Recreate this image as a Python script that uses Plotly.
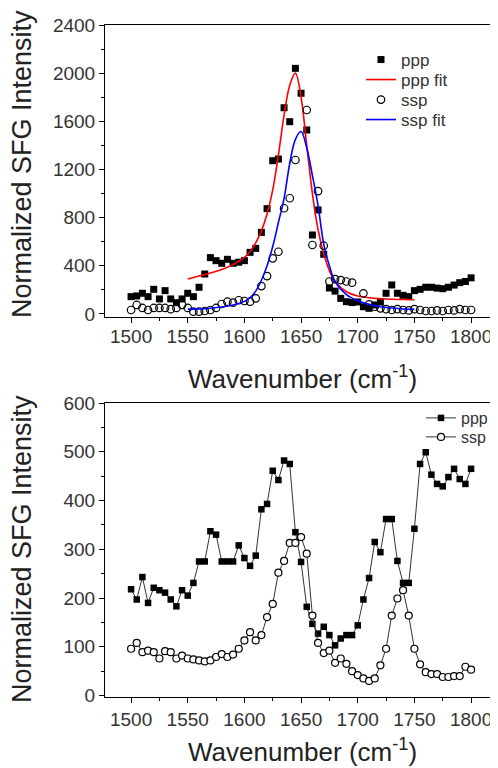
import plotly.graph_objects as go

# ---------------- data ----------------
# top panel
wn_ppp_top = [1500,1505,1510,1515,1520,1525,1530,1535,1540,1545,1550,1555,1560,1565,1570,1575,1580,1585,1590,1595,
              1600,1605,1610,1615,1620,1625,1630,1635,1640,1645,1650,1655,1660,1665,1670,1675,1680,1685,1690,1695,
              1700,1705,1710,1715,1720,1725,1730,1735,1740,1745,1750,1755,1760,1765,1770,1775,1780,1785,1790,1795,1800]
ppp_top = [144,150,172,144,205,125,194,125,94,125,172,144,222,332,468,443,421,454,421,430,
           443,512,545,678,875,1273,1287,1713,1597,2040,1833,1528,656,864,496,216,190,130,102,95,
           100,60,47,75,102,172,241,172,155,144,194,205,222,222,215,210,222,240,260,270,300]

wn_ssp_top = [1500,1505,1510,1515,1520,1525,1530,1535,1540,1545,1550,1555,1560,1565,1570,1575,1580,1585,1590,1595,
              1600,1605,1610,1615,1620,1625,1630,1635,1640,1645,1655,1660,1665,1670,1675,1680,1685,1690,1695,
              1705,1710,1715,1720,1725,1730,1735,1740,1745,1750,1755,1760,1765,1770,1775,1780,1785,1790,1795,1800]
ssp_top = [33,75,50,33,50,50,50,40,50,75,50,19,19,25,33,50,83,102,94,114,
           108,102,130,232,315,462,517,878,961,1279,1694,573,1021,567,270,290,282,270,260,
           172,80,60,47,40,33,40,33,30,40,33,25,25,30,25,33,30,40,33,33]

wn_fit = [1550,1560,1570,1580,1590,1600,1605,1610,1615,1620,1625,1630,1635,1640,1645,1650,1655,1660,
          1665,1670,1675,1680,1690,1700,1710,1720,1730,1740,1750]
ppp_fit = [290,315,340,370,410,470,520,590,690,830,1030,1320,1650,1900,2000,1800,1400,1000,
           700,500,360,270,185,150,135,127,122,120,118]
ssp_fit = [40,42,48,58,75,105,135,190,280,400,560,760,960,1250,1450,1515,1380,1150,
           900,580,400,270,160,110,80,60,50,42,38]

# bottom panel
wn_bot = [1500,1505,1510,1515,1520,1525,1530,1535,1540,1545,1550,1555,1560,1565,1570,1575,1580,1585,1590,1595,
          1600,1605,1610,1615,1620,1625,1630,1635,1640,1645,1650,1655,1660,1665,1670,1675,1680,1685,1690,1695,
          1700,1705,1710,1715,1720,1725,1730,1735,1740,1745,1750,1755,1760,1765,1770,1775,1780,1785,1790,1795,1800]
ppp_bot = [218,197,243,190,221,216,211,197,183,216,205,231,275,275,337,330,275,275,275,308,
           282,266,287,382,393,461,442,482,475,335,274,182,147,127,141,124,103,117,124,124,
           144,197,241,315,294,362,362,276,231,231,342,475,499,453,434,429,448,465,444,434,465]
ssp_bot = [96,108,89,92,89,76,91,89,76,82,76,74,72,70,72,79,85,79,84,96,
           113,130,113,124,161,188,252,276,313,313,325,291,164,108,87,92,67,76,65,50,
           42,35,30,35,62,96,164,199,216,164,96,64,48,44,44,38,38,40,40,59,53]

x_ticks = [1500,1550,1600,1650,1700,1750,1800]
x_title = "Wavenumber (cm<sup>-1</sup>)"
y_title = "Normalized SFG Intensity"

# ---------------- figure ----------------
W, H = 490, 760          # page has an 8px body margin
OFF = 8
FONT = "Liberation Sans, Arial, sans-serif"
px_x = lambda p: (p - OFF) / W
px_y = lambda p: 1 - (p - OFF) / H

fig = go.Figure()

fig.add_trace(go.Scatter(x=wn_ppp_top, y=ppp_top, mode="markers", name="ppp",
                         marker=dict(symbol="square", size=7, color="black"),
                         xaxis="x", yaxis="y", legend="legend"))
fig.add_trace(go.Scatter(x=wn_fit, y=ppp_fit, mode="lines", name="ppp fit", line_shape="spline",
                         line=dict(color="#ff0000", width=1.6), xaxis="x", yaxis="y", legend="legend2"))
fig.add_trace(go.Scatter(x=wn_ssp_top, y=ssp_top, mode="markers", name="ssp",
                         marker=dict(symbol="circle-open", size=7.5, color="black", line=dict(width=1.2)),
                         xaxis="x", yaxis="y", legend="legend3"))
fig.add_trace(go.Scatter(x=wn_fit, y=ssp_fit, mode="lines", name="ssp fit", line_shape="spline",
                         line=dict(color="#0000ff", width=1.6), xaxis="x", yaxis="y", legend="legend4"))

fig.add_trace(go.Scatter(x=wn_bot, y=ppp_bot, mode="lines+markers", name="ppp",
                         marker=dict(symbol="square", size=6.5, color="black"),
                         line=dict(color="#333333", width=1), xaxis="x2", yaxis="y2", legend="legend5"))
fig.add_trace(go.Scatter(x=wn_bot, y=ssp_bot, mode="lines+markers", name="ssp",
                         marker=dict(symbol="circle", size=7, color="white", line=dict(color="black", width=1.2)),
                         line=dict(color="#333333", width=1), xaxis="x2", yaxis="y2", legend="legend6"))

axis_common = dict(showline=True, linecolor="black", linewidth=1, mirror=True,
                   ticks="outside", ticklen=5, tickwidth=1, tickcolor="black",
                   showgrid=False, zeroline=False, automargin=False,
                   tickfont=dict(family=FONT, size=19, color="#333333"))


def leg(xp, yp, size):
    return dict(x=px_x(xp), y=px_y(yp), xanchor="left", yanchor="middle",
                bgcolor="rgba(0,0,0,0)", borderwidth=0,
                font=dict(family=FONT, size=size, color="#333333"),
                itemwidth=30, tracegroupgap=0)


TITLE_FONT = dict(family=FONT, size=26, color="#222222")
xdom = [px_x(105), px_x(496)]
fig.update_layout(
    template="none",
    width=W, height=H, margin=dict(l=0, r=0, t=0, b=0, pad=0, autoexpand=False),
    paper_bgcolor="white", plot_bgcolor="white",
    font=dict(family=FONT, color="#222222"),
    showlegend=True,
    xaxis=dict(domain=xdom, range=[1477, 1822], tickvals=x_ticks, anchor="y", ticklabelstandoff=-3,
               minor=dict(dtick=25, tick0=1500, ticks="outside", ticklen=3, tickcolor="black"),
               **axis_common),
    yaxis=dict(domain=[px_y(317), px_y(25)], range=[-25, 2400], dtick=400, tick0=0, anchor="x",
               minor=dict(dtick=200, tick0=0, ticks="outside", ticklen=3, tickcolor="black"),
               **axis_common),
    xaxis2=dict(domain=xdom, range=[1477, 1822], tickvals=x_ticks, anchor="y2",
                minor=dict(dtick=25, tick0=1500, ticks="outside", ticklen=3, tickcolor="black"),
                **axis_common),
    yaxis2=dict(domain=[px_y(697), px_y(403)], range=[-3, 600], dtick=100, tick0=0, anchor="x2",
                minor=dict(dtick=50, tick0=0, ticks="outside", ticklen=3, tickcolor="black"),
                **axis_common),
    legend=leg(361, 60, 17),
    legend2=leg(361, 80, 17),
    legend3=leg(361, 100, 17),
    legend4=leg(361, 120, 17),
    legend5=leg(421, 418, 16),
    legend6=leg(421, 437, 16),
    annotations=[
        dict(text=x_title, x=px_x(302), y=px_y(377), xref="paper", yref="paper",
             showarrow=False, xanchor="center", yanchor="middle", font=TITLE_FONT),
        dict(text=x_title, x=px_x(302), y=px_y(750), xref="paper", yref="paper",
             showarrow=False, xanchor="center", yanchor="middle", font=TITLE_FONT),
        dict(text=y_title, x=px_x(22), y=px_y(164), xref="paper", yref="paper", textangle=-90,
             showarrow=False, xanchor="center", yanchor="middle",
             font=dict(family=FONT, size=27, color="#222222")),
        dict(text=y_title, x=px_x(22), y=px_y(549), xref="paper", yref="paper", textangle=-90,
             showarrow=False, xanchor="center", yanchor="middle",
             font=dict(family=FONT, size=27, color="#222222")),
    ],
)

fig.write_html("out.html")
